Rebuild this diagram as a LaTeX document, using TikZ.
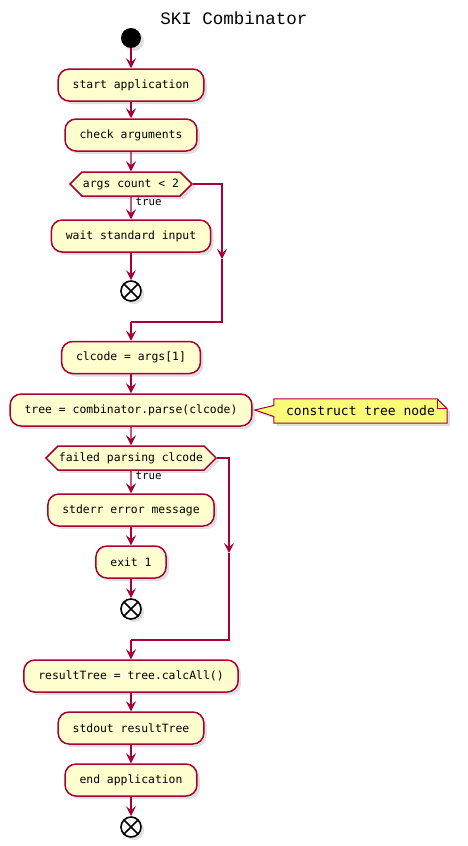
\documentclass[tikz,border=0pt]{standalone}
\usepackage{fontspec}
\setmonofont{DejaVu Sans Mono}
\newfontfamily\titlefont{Liberation Mono}
\usetikzlibrary{arrows.meta,shapes.symbols,shadows,backgrounds}
\definecolor{umlred}{HTML}{A80036}
\definecolor{umlfill}{HTML}{FEFECE}
\definecolor{umlnote}{HTML}{FBFB77}
\tikzset{
  shade/.style={drop shadow={shadow xshift=3pt, shadow yshift=-3pt, opacity=0.25}},
  action/.style={draw=umlred, fill=umlfill, line width=1.5pt, rounded corners=11pt,
    minimum height=32pt, inner xsep=14.5pt, font=\ttfamily\fontsize{11.4}{13}\selectfont, shade},
  choice/.style={signal, signal to=west and east, signal pointer angle=90, draw=umlred,
    fill=umlfill, line width=1.5pt, minimum height=24pt, inner xsep=1pt, inner ysep=2pt,
    font=\ttfamily\fontsize{11.4}{13}\selectfont, shade},
  startdot/.style={circle, fill=black, minimum size=20pt, inner sep=0pt, shade},
  stopdot/.style={circle, draw=black, fill=white, line width=1.6pt, minimum size=20pt,
    inner sep=0pt, shade, path picture={
      \draw[line width=1.6pt] (path picture bounding box.north west) -- (path picture bounding box.south east)
        (path picture bounding box.north east) -- (path picture bounding box.south west);}},
  flow/.style={draw=umlred, line width=1.2pt, -{Stealth[length=10pt,width=10pt,inset=4pt]}},
  plain/.style={draw=umlred, line width=1.2pt},
  truelabel/.style={font=\ttfamily\fontsize{10.8}{12}\selectfont, inner sep=1pt},
  notetext/.style={font=\ttfamily\fontsize{13}{15}\selectfont, minimum width=173pt, minimum height=24pt, inner sep=0pt},
  notebox/.style={draw=umlred, fill=umlnote, line width=1pt, shade},
  title/.style={font=\titlefont\fontsize{17.5}{20}\selectfont}
}

\begin{document}
\begin{tikzpicture}[x=1pt, y=-1pt]
  \useasboundingbox (0,0) rectangle (468,846);
  \node[title] (ttl) at (234,18) {SKI Combinator};
  % main column
  \node[startdot] (start) at (131,38) {};
  \node[action] (startapp) at (131,85) {start application};
  \node[action] (checkargs) at (131,135) {check arguments};
  \node[choice] (argscount) at (131,184) {args count < 2};
  \node[action] (waitinput) at (131,236) {wait standard input};
  \node[stopdot] (stop1) at (131,291) {};
  \node[action] (clcode) at (131,357.5) {clcode = args[1]};
  \node[action] (parse) at (131,410) {tree = combinator.parse(clcode)};
  \node[choice] (failed) at (131,458) {failed parsing clcode};
  \node[action] (stderr) at (131,510) {stderr error message};
  \node[action] (exitone) at (131,562) {exit 1};
  \node[stopdot] (stop2) at (131,609) {};
  \node[action] (calcall) at (131,676) {resultTree = tree.calcAll()};
  \node[action] (stdout) at (131,728) {stdout resultTree};
  \node[action] (endapp) at (131,780) {end application};
  \node[stopdot] (stop3) at (131,827) {};
  % note
  \node[notetext] (note) at (360.5,411) {construct tree node};
  \begin{scope}[on background layer]
    \path[notebox] (note.north west) -- ([xshift=-10pt]note.north east) -- ([yshift=-10pt]note.north east)
      -- (note.south east) -- (note.south west) -- ([yshift=-5.5pt]note.west)
      -- ([xshift=2pt]parse.east) -- ([yshift=5.5pt]note.west) -- cycle;
  \end{scope}
  \draw[plain, line width=1pt] ([xshift=-10pt]note.north east) |- ([yshift=-10pt]note.north east);
  % connectors
  \draw[flow] (start) -- (startapp);
  \draw[flow] (startapp) -- (checkargs);
  \draw[flow] (checkargs) -- (argscount);
  \draw[flow] (argscount) -- node[truelabel, pos=0, anchor=north west, xshift=3pt] (true1) {true} (waitinput);
  \draw[flow] (waitinput) -- (stop1);
  \coordinate (r1) at (222,184);
  \coordinate (r1m) at (222,259);
  \coordinate (r1b) at (222,322);
  \coordinate (j1) at (131,322);
  \draw[flow] (argscount.east) -- (r1) -- (r1m);
  \draw[plain] (r1m) -- (r1b) -- (j1);
  \draw[flow] (j1) -- (clcode);
  \draw[flow] (clcode) -- (parse);
  \draw[flow] (parse) -- (failed);
  \draw[flow] (failed) -- node[truelabel, pos=0, anchor=north west, xshift=3pt] (true2) {true} (stderr);
  \draw[flow] (stderr) -- (exitone);
  \draw[flow] (exitone) -- (stop2);
  \coordinate (r2) at (229,458);
  \coordinate (r2m) at (229,553);
  \coordinate (r2b) at (229,640);
  \coordinate (j2) at (131,640);
  \draw[flow] (failed.east) -- (r2) -- (r2m);
  \draw[plain] (r2m) -- (r2b) -- (j2);
  \draw[flow] (j2) -- (calcall);
  \draw[flow] (calcall) -- (stdout);
  \draw[flow] (stdout) -- (endapp);
  \draw[flow] (endapp) -- (stop3);
\end{tikzpicture}
\end{document}
